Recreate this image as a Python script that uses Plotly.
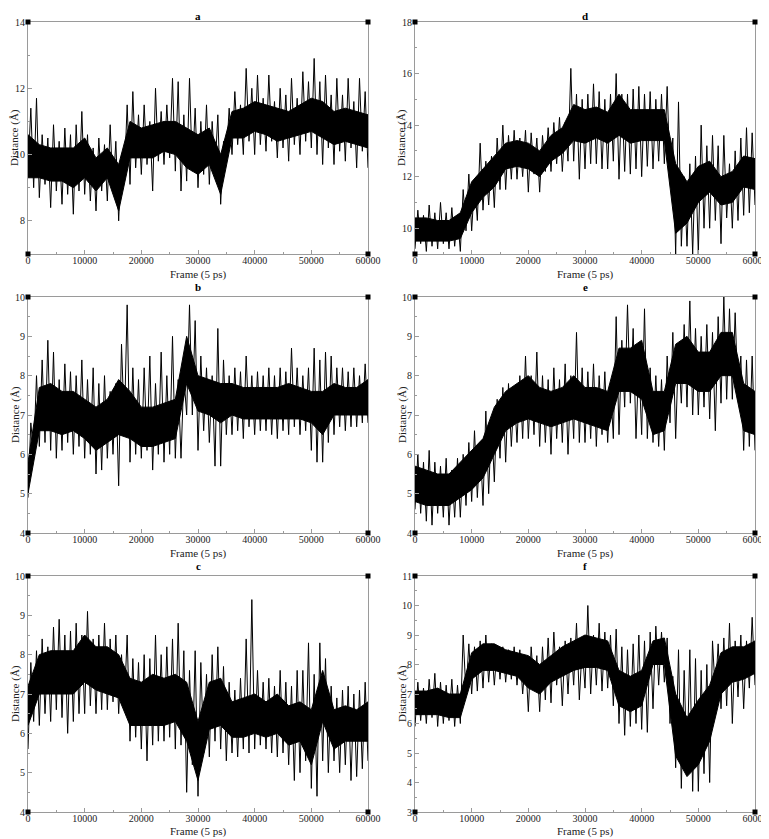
import plotly.graph_objects as go
from plotly.subplots import make_subplots

# core band sampled every 2000 frames, spike extremes: lows every 1000, highs every 1000 (offset 500)
frames_core = list(range(0, 60001, 2000))
frames_spike = list(range(0, 60001, 500))

# ---- panel a ----
a_core_lo = [9.3, 9.3, 9.2, 9.2, 9.0, 9.3, 8.9, 9.3, 8.3, 9.9, 9.9, 9.9, 10.1, 10.0, 9.6, 9.4,
             9.7, 8.8, 10.5, 10.5, 10.7, 10.6, 10.4, 10.5, 10.6, 10.7, 10.5, 10.3, 10.4, 10.3, 10.2]
a_core_hi = [10.6, 10.3, 10.2, 10.2, 10.2, 10.5, 9.9, 10.2, 9.7, 11.0, 10.8, 10.9, 11.0, 11.0, 10.8, 10.6,
             10.8, 10.0, 11.3, 11.4, 11.6, 11.5, 11.4, 11.3, 11.5, 11.7, 11.6, 11.3, 11.4, 11.3, 11.2]
a_low = [9.5, 9.0, 8.7, 9.1, 8.4, 8.9, 8.5, 8.8, 8.2, 8.9,
         8.8, 8.6, 8.3, 8.9, 8.6, 8.9, 8.0, 9.3, 9.1, 9.6,
         9.4, 9.7, 8.9, 9.8, 9.7, 9.9, 9.5, 8.9, 9.2, 9.5,
         9.0, 9.4, 9.1, 9.5, 8.5, 9.9, 10.0, 10.3, 10.0, 10.4,
         10.0, 10.3, 10.1, 10.4, 9.9, 10.2, 9.8, 10.3, 10.0, 10.4,
         10.2, 10.0, 9.7, 10.2, 9.7, 10.1, 9.8, 10.2, 9.6, 10.1, 9.6]
a_high = [11.4, 11.7, 10.6, 10.5, 10.9, 10.4, 10.8, 10.6, 10.9, 11.3,
          10.6, 10.2, 10.5, 10.3, 10.9, 10.4, 10.0, 11.5, 11.9, 11.2,
          11.5, 11.0, 12.0, 11.3, 11.5, 12.3, 12.2, 11.2, 12.3, 11.4,
          11.0, 11.5, 11.0, 11.2, 10.4, 11.4, 11.9, 11.5, 12.6, 12.0,
          12.4, 11.7, 12.4, 11.6, 12.0, 11.8, 12.3, 11.7, 12.5, 12.2,
          12.9, 12.2, 12.4, 11.8, 12.3, 11.8, 12.3, 11.6, 12.3, 11.9]

# ---- panel d ----
d_core_lo = [9.5, 9.5, 9.5, 9.5, 9.6, 10.6, 11.2, 11.6, 12.3, 12.4, 12.3, 12.0, 12.6, 12.9, 13.4, 13.3,
             13.5, 13.3, 13.6, 13.3, 13.4, 13.4, 13.4, 9.8, 10.2, 11.0, 11.4, 10.9, 11.0, 11.6, 11.5]
d_core_hi = [10.4, 10.4, 10.3, 10.3, 10.6, 11.8, 12.3, 12.8, 13.3, 13.4, 13.3, 13.0, 13.6, 13.9, 14.8, 14.6,
             14.7, 14.5, 15.2, 14.6, 14.6, 14.6, 14.6, 12.5, 11.8, 12.4, 12.6, 12.0, 12.2, 12.8, 12.7]
d_low = [9.2, 9.4, 9.1, 9.3, 9.2, 9.4, 9.2, 9.3, 9.1, 9.9,
         9.9, 10.3, 10.7, 10.9, 10.8, 11.5, 11.5, 11.9, 11.9, 12.0,
         11.4, 12.1, 11.4, 12.2, 12.2, 12.5, 12.2, 12.6, 12.6, 11.9,
         12.3, 12.5, 12.5, 12.3, 12.3, 12.6, 11.9, 12.2, 12.1, 12.3,
         12.0, 12.4, 12.3, 12.6, 12.5, 12.0, 9.0, 9.3, 9.3, 9.0,
         9.0, 10.0, 10.0, 10.3, 9.4, 10.4, 10.0, 10.3, 10.5, 10.6, 10.9]
d_high = [10.7, 10.5, 10.9, 10.6, 11.0, 10.6, 10.8, 10.5, 11.5, 12.1,
          11.8, 13.3, 12.6, 12.8, 13.5, 14.0, 13.6, 13.8, 13.5, 13.8,
          13.7, 13.5, 13.6, 13.9, 14.1, 14.3, 14.1, 16.2, 15.2, 15.0,
          15.2, 15.6, 15.3, 15.0, 15.2, 16.0, 15.2, 15.2, 15.4, 15.5,
          15.2, 15.3, 15.0, 15.2, 15.5, 13.5, 14.9, 12.0, 12.5, 12.8,
          14.0, 13.2, 13.6, 13.2, 13.6, 12.5, 13.0, 13.5, 13.9, 13.7]

# ---- panel b ----
b_core_lo = [5.0, 6.6, 6.6, 6.5, 6.6, 6.4, 6.1, 6.3, 6.5, 6.4, 6.2, 6.2, 6.3, 6.4, 7.8, 7.1,
             7.0, 6.8, 7.0, 6.9, 6.9, 6.9, 6.9, 6.9, 6.9, 6.8, 6.5, 7.0, 7.0, 7.0, 7.0]
b_core_hi = [5.8, 7.7, 7.8, 7.6, 7.6, 7.4, 7.2, 7.4, 7.9, 7.6, 7.2, 7.2, 7.3, 7.4, 9.0, 8.0,
             7.9, 7.8, 7.8, 7.7, 7.7, 7.7, 7.7, 7.8, 7.7, 7.6, 7.6, 7.8, 7.7, 7.7, 7.9]
b_low = [4.9, 6.0, 6.2, 6.3, 6.1, 5.9, 6.1, 6.3, 6.0, 6.2,
         5.9, 6.0, 5.5, 5.6, 5.9, 6.0, 5.2, 6.7, 5.8, 6.0,
         5.9, 6.1, 5.6, 6.0, 5.8, 6.0, 5.9, 5.9, 7.0, 7.0,
         6.1, 6.6, 6.3, 5.7, 5.7, 6.5, 6.5, 6.6, 6.4, 6.7,
         6.5, 6.6, 6.6, 6.5, 6.4, 6.6, 6.5, 6.7, 6.5, 6.6,
         6.1, 5.8, 5.8, 6.3, 6.5, 6.7, 6.6, 6.7, 6.7, 6.8, 6.8]
b_high = [6.8, 8.0, 8.4, 8.9, 8.6, 7.9, 8.3, 8.1, 8.0, 8.4,
          7.9, 8.2, 7.8, 8.0, 7.6, 7.8, 8.8, 9.8, 8.2, 7.9,
          8.2, 8.5, 7.8, 8.6, 8.0, 9.0, 7.9, 8.0, 9.8, 9.4,
          8.5, 8.2, 8.0, 9.2, 8.4, 8.0, 8.2, 8.1, 8.5, 8.0,
          8.1, 8.0, 8.2, 8.0, 8.2, 8.1, 8.7, 8.2, 8.0, 8.2,
          8.7, 8.4, 8.6, 8.5, 8.2, 8.2, 8.1, 8.2, 8.0, 8.3]

# ---- panel e ----
e_core_lo = [4.8, 4.7, 4.7, 4.7, 4.9, 5.1, 5.4, 6.0, 6.6, 6.8, 6.9, 6.8, 6.7, 6.8, 6.9, 6.8,
             6.7, 6.6, 7.6, 7.6, 7.4, 6.5, 6.6, 7.8, 7.8, 7.6, 7.6, 8.0, 8.0, 6.6, 6.5]
e_core_hi = [5.7, 5.6, 5.5, 5.5, 5.8, 6.1, 6.4, 7.2, 7.6, 7.8, 8.0, 7.7, 7.6, 7.7, 8.0, 7.7,
             7.7, 7.6, 8.7, 8.7, 8.9, 7.6, 7.6, 8.8, 9.0, 8.6, 8.6, 9.1, 9.1, 7.8, 7.6]
e_low = [4.6, 4.5, 4.3, 4.2, 4.5, 4.4, 4.2, 4.4, 4.4, 4.7,
         4.8, 4.9, 4.7, 5.0, 5.3, 5.9, 5.8, 6.2, 6.3, 6.4,
         6.4, 6.5, 6.2, 6.3, 6.0, 6.4, 6.3, 6.0, 6.4, 6.3,
         6.3, 6.4, 6.2, 6.5, 6.3, 6.4, 6.5, 7.2, 7.3, 6.4,
         6.5, 6.4, 6.3, 6.2, 6.1, 6.8, 6.4, 7.3, 7.2, 7.0,
         7.0, 7.2, 6.9, 6.6, 7.3, 7.4, 7.4, 7.4, 6.1, 6.2, 6.1]
e_high = [6.0, 5.8, 6.1, 5.8, 5.7, 5.9, 5.6, 5.9, 6.0, 6.3,
          6.6, 6.3, 7.1, 6.9, 7.4, 7.7, 7.8, 7.6, 8.0, 8.5,
          8.0, 8.6, 8.0, 7.9, 8.2, 7.9, 8.3, 8.0, 9.1, 8.2,
          8.1, 8.3, 8.0, 8.1, 7.8, 9.5, 8.9, 9.8, 9.2, 8.4,
          9.7, 8.2, 8.0, 7.9, 8.5, 9.1, 8.7, 9.3, 9.9, 9.2,
          9.0, 9.3, 9.1, 9.5, 10.0, 9.7, 9.6, 8.5, 8.4, 8.5]

# ---- panel c ----
c_core_lo = [6.2, 7.0, 7.0, 7.0, 7.0, 7.3, 7.1, 7.0, 6.9, 6.2, 6.2, 6.2, 6.2, 6.3, 5.8, 4.8,
             6.1, 6.2, 5.9, 5.9, 6.0, 5.9, 6.0, 5.7, 5.8, 5.2, 6.3, 5.6, 5.8, 5.8, 5.8]
c_core_hi = [7.2, 8.0, 8.1, 8.1, 8.1, 8.5, 8.2, 8.2, 8.0, 7.4, 7.3, 7.5, 7.4, 7.5, 7.3, 6.3,
             7.3, 7.4, 6.8, 6.9, 7.0, 6.8, 7.0, 6.7, 6.8, 6.6, 7.6, 6.6, 6.7, 6.6, 6.8]
c_low = [5.6, 6.3, 6.2, 6.5, 6.3, 6.6, 6.4, 6.0, 6.3, 6.5,
         6.5, 6.7, 6.5, 6.6, 6.6, 6.8, 6.5, 6.7, 5.8, 5.9,
         5.6, 5.3, 5.7, 5.8, 5.8, 5.9, 5.6, 5.7, 4.5, 5.2,
         4.4, 5.5, 5.4, 5.8, 5.6, 5.3, 5.5, 5.4, 5.6, 5.5,
         5.6, 5.7, 5.6, 5.5, 5.4, 5.5, 5.2, 4.8, 5.0, 5.3,
         4.6, 4.4, 5.3, 5.0, 5.3, 5.0, 5.2, 4.8, 4.9, 5.1, 5.3]
c_high = [7.8, 8.1, 8.4, 8.2, 8.7, 8.9, 8.5, 8.6, 8.8, 8.5,
          9.1, 8.4, 8.5, 8.8, 8.4, 8.5, 8.0, 8.5, 7.9, 7.8,
          8.0, 7.9, 8.5, 8.0, 8.2, 8.4, 8.8, 8.1, 7.6, 8.1,
          7.8, 7.5, 8.0, 8.2, 7.7, 7.3, 7.1, 7.4, 8.4, 9.4,
          7.6, 7.3, 7.4, 7.2, 7.6, 7.3, 7.2, 7.6, 7.6, 8.3,
          7.5, 8.3, 7.9, 7.2, 6.9, 7.1, 7.2, 7.0, 7.1, 7.3]

# ---- panel f ----
f_core_lo = [6.3, 6.3, 6.3, 6.2, 6.2, 7.5, 7.8, 7.8, 7.7, 7.6, 7.2, 7.0, 7.4, 7.6, 7.8, 7.9,
             7.9, 7.8, 6.6, 6.4, 6.6, 8.0, 8.0, 4.9, 4.2, 4.6, 5.4, 7.0, 7.4, 7.5, 7.7]
f_core_hi = [7.1, 7.1, 7.2, 7.0, 7.0, 8.4, 8.7, 8.7, 8.5, 8.4, 8.3, 8.0, 8.3, 8.6, 8.8, 9.0,
             8.9, 8.8, 7.8, 7.6, 7.8, 8.8, 8.9, 7.0, 6.2, 6.8, 7.3, 8.4, 8.6, 8.6, 8.8]
f_low = [5.9, 6.1, 6.0, 6.2, 5.9, 6.0, 6.1, 5.9, 6.0, 7.0,
         7.0, 7.1, 7.2, 7.4, 7.3, 7.5, 7.4, 7.5, 7.3, 7.0,
         6.4, 7.2, 6.4, 6.8, 6.7, 7.3, 6.6, 7.0, 7.3, 6.8,
         7.2, 7.0, 7.3, 7.1, 7.2, 6.6, 6.0, 5.6, 5.9, 6.0,
         5.8, 5.7, 6.5, 7.3, 7.4, 6.0, 4.5, 3.8, 4.5, 3.7,
         3.7, 4.3, 4.0, 7.0, 6.5, 6.6, 6.0, 6.9, 6.5, 7.2, 7.3]
f_high = [7.4, 7.2, 7.5, 7.7, 7.4, 7.3, 7.5, 7.3, 9.0, 8.7,
          8.6, 8.8, 9.0, 8.7, 8.6, 8.6, 8.5, 8.6, 8.5, 8.2,
          8.6, 8.3, 8.6, 8.9, 9.1, 8.6, 8.8, 8.9, 9.4, 8.6,
          10.0, 9.0, 9.4, 9.1, 9.0, 9.2, 8.6, 8.5, 8.7, 9.0,
          8.8, 9.1, 9.3, 9.1, 8.9, 7.6, 8.5, 7.8, 8.5, 8.2,
          7.8, 8.0, 8.8, 8.7, 8.9, 9.4, 8.8, 9.0, 8.8, 9.6]

# label, row, col, y range, major step, minor step, data
panels = [
    ("a", 1, 1, [7, 14], 2, 1, a_core_lo, a_core_hi, a_low, a_high),
    ("d", 1, 2, [9, 18], 2, 1, d_core_lo, d_core_hi, d_low, d_high),
    ("b", 2, 1, [4, 10], 1, 0.5, b_core_lo, b_core_hi, b_low, b_high),
    ("e", 2, 2, [4, 10], 1, 0.5, e_core_lo, e_core_hi, e_low, e_high),
    ("c", 3, 1, [4, 10], 1, 0.5, c_core_lo, c_core_hi, c_low, c_high),
    ("f", 3, 2, [3, 11], 1, 0.5, f_core_lo, f_core_hi, f_low, f_high),
]

# the page body has an 8px margin, so the figure starts at (8, 8) in the window
OFF = 8
W, H = 769 - OFF, 839 - OFF
col_dom = {1: [(28 - OFF) / W, (368 - OFF) / W], 2: [(415 - OFF) / W, (755 - OFF) / W]}
row_px = {1: (22, 254), 2: (297, 533), 3: (576, 812)}
row_dom = {r: [1 - (b - OFF) / H, 1 - (t - OFF) / H] for r, (t, b) in row_px.items()}
title_shift = {1: 5.5, 2: 10, 3: 10}
xtitle_shift = {1: -20, 2: -20, 3: -19}

FONT = "Liberation Serif"
AXCOL = "#9a9a9a"

fig = make_subplots(rows=3, cols=2)

annotations = []
shapes = []
for i, (lab, r, c, yr, dt, mdt, clo, chi, lows, highs) in enumerate(panels):
    n = "" if i == 0 else str(i + 1)
    # zigzag: low at every 1000 frames, high in between
    spike_y = [lows[k // 2] if k % 2 == 0 else highs[k // 2] for k in range(len(frames_spike))]
    fig.add_trace(go.Scatter(x=frames_core + frames_core[::-1], y=chi + clo[::-1],
                             fill="toself", fillcolor="black", mode="lines",
                             line=dict(color="black", width=1), hoverinfo="skip"), row=r, col=c)
    fig.add_trace(go.Scatter(x=frames_spike, y=spike_y, mode="lines",
                             line=dict(color="black", width=1)), row=r, col=c)

    fig.update_xaxes(domain=col_dom[c], range=[0, 60000], dtick=10000, tick0=0, tickformat="d",
                     automargin=False, showline=True, linecolor=AXCOL, linewidth=1, mirror=True,
                     ticks="inside", ticklen=4, tickcolor=AXCOL, showgrid=False, zeroline=False,
                     ticklabelstandoff=-3,
                     minor=dict(dtick=5000, ticks="inside", ticklen=2, tickcolor=AXCOL),
                     tickfont=dict(family=FONT, size=10, color="#222"), row=r, col=c)
    fig.update_yaxes(domain=row_dom[r], range=yr, dtick=dt, tick0=0,
                     automargin=False, showline=True, linecolor=AXCOL, linewidth=1, mirror=True,
                     ticks="inside", ticklen=4, tickcolor=AXCOL, showgrid=False, zeroline=False,
                     minor=dict(dtick=mdt, ticks="inside", ticklen=2, tickcolor=AXCOL),
                     tickfont=dict(family=FONT, size=10, color="#222"), row=r, col=c)

    xd, yd = "x%s domain" % n, "y%s domain" % n
    annotations.append(dict(text="<b>%s</b>" % lab, xref=xd, yref=yd, x=0.5, y=1,
                            xanchor="center", yanchor="middle", yshift=title_shift[r],
                            showarrow=False, font=dict(family=FONT, size=11, color="black")))
    annotations.append(dict(text="Frame (5 ps)", xref=xd, yref=yd, x=0.5, y=0,
                            xanchor="center", yanchor="middle", yshift=xtitle_shift[r],
                            showarrow=False, font=dict(family=FONT, size=11, color="#222")))
    annotations.append(dict(text="Distance (Å)", xref=xd, yref=yd, x=0, y=0.5,
                            xanchor="center", yanchor="middle", xshift=-13, textangle=-90,
                            borderpad=0, showarrow=False,
                            font=dict(family=FONT, size=11, color="#222")))
    for cx in (0, 1):
        for cy in (0, 1):
            shapes.append(dict(type="rect", xref=xd, yref=yd, xsizemode="pixel", ysizemode="pixel",
                               xanchor=cx, yanchor=cy, x0=-2.5, x1=2.5, y0=-2.5, y1=2.5,
                               fillcolor="black", line=dict(width=0)))

fig.update_layout(width=W, height=H, margin=dict(l=0, r=0, t=0, b=0),
                  plot_bgcolor="white", paper_bgcolor="white", showlegend=False,
                  annotations=annotations, shapes=shapes)

fig.write_html("out.html")
